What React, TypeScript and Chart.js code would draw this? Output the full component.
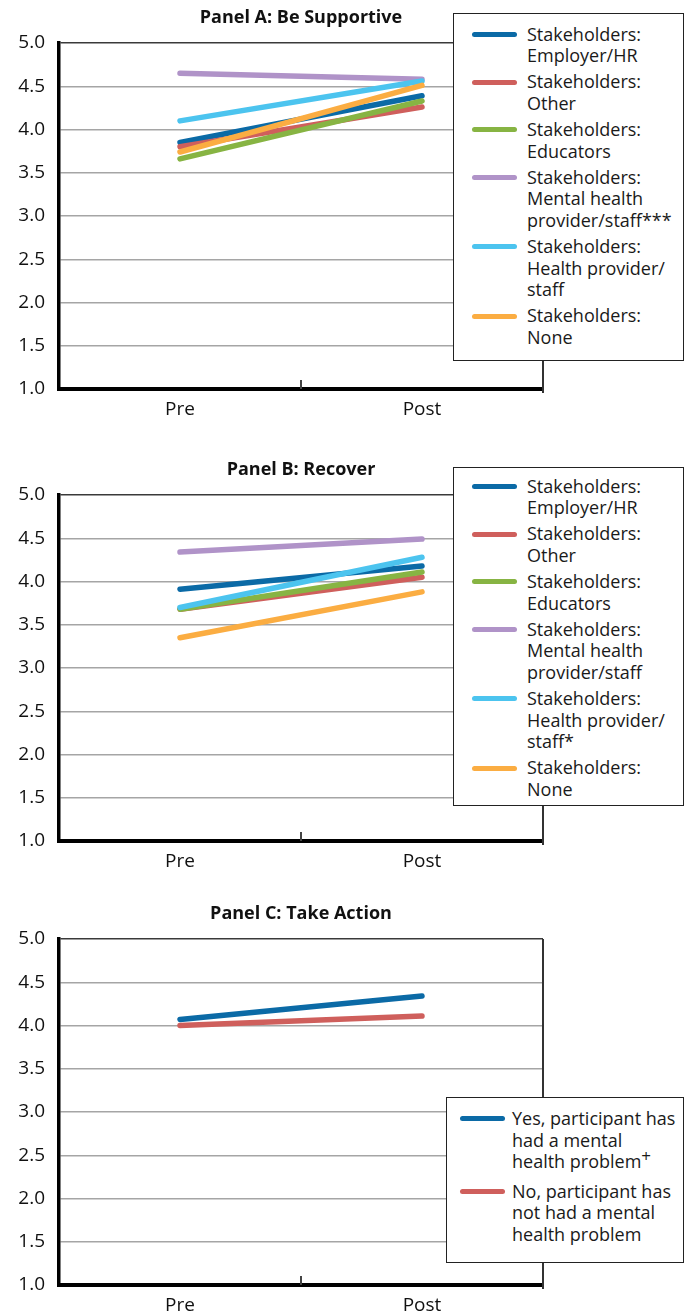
import React, { useEffect, useRef } from "react";
import { Chart, registerables } from "chart.js";

Chart.register(...registerables);

const FONT = "'Open Sans', 'Noto Sans', sans-serif";

const categories = ["Pre", "Post"];
const yTicks = [1.0, 1.5, 2.0, 2.5, 3.0, 3.5, 4.0, 4.5, 5.0];

const stakeholderColors = ["#0b6aa6", "#cf5f5c", "#87b443", "#b093c8", "#4cc4ef", "#fbad42"];

const labelsA = [
  ["Stakeholders:", "Employer/HR"],
  ["Stakeholders:", "Other"],
  ["Stakeholders:", "Educators"],
  ["Stakeholders:", "Mental health", "provider/staff***"],
  ["Stakeholders:", "Health provider/", "staff"],
  ["Stakeholders:", "None"],
];
const valuesA = [
  [3.85, 4.39],
  [3.8, 4.26],
  [3.66, 4.33],
  [4.65, 4.58],
  [4.1, 4.56],
  [3.74, 4.51],
];

const labelsB = [
  ["Stakeholders:", "Employer/HR"],
  ["Stakeholders:", "Other"],
  ["Stakeholders:", "Educators"],
  ["Stakeholders:", "Mental health", "provider/staff"],
  ["Stakeholders:", "Health provider/", "staff*"],
  ["Stakeholders:", "None"],
];
const valuesB = [
  [3.91, 4.18],
  [3.68, 4.05],
  [3.68, 4.11],
  [4.34, 4.49],
  [3.7, 4.28],
  [3.35, 3.88],
];

const colorsC = ["#0b6aa6", "#cf5f5c"];
const labelsC = [
  ["Yes, participant has", "had a mental", "health problem+"],
  ["No, participant has", "not had a mental", "health problem"],
];
const valuesC = [
  [4.07, 4.34],
  [4.0, 4.11],
];

const framePlugin = {
  id: "frame",
  afterDraw(chart: any) {
    const { ctx, chartArea } = chart;
    const x = chart.scales.x;
    ctx.save();
    ctx.strokeStyle = "#333";
    ctx.lineWidth = 2;
    ctx.beginPath();
    ctx.moveTo(chartArea.right, chartArea.top);
    ctx.lineTo(chartArea.right, chartArea.bottom + 4);
    ctx.stroke();
    const mid = (x.getPixelForValue(0) + x.getPixelForValue(1)) / 2;
    ctx.strokeStyle = "#444";
    ctx.lineWidth = 2;
    ctx.beginPath();
    ctx.moveTo(mid, chartArea.bottom);
    ctx.lineTo(mid, chartArea.bottom - 9);
    ctx.stroke();
    ctx.restore();
  },
};

type LegendCfg = {
  left: number;
  top: number;
  width: number;
  height: number;
  padTop: number;
  swatchLeft: number;
  textLeft: number;
  lineHeight: number;
  gap: number;
};

function renderLine(s: string) {
  if (s.endsWith("+")) {
    return (
      <>
        {s.slice(0, -1)}
        <span style={{ fontSize: 17, position: "relative", top: -6 }}>+</span>
      </>
    );
  }
  return s;
}

function Panel(props: {
  top: number;
  height: number;
  title: string;
  labels: string[][];
  values: number[][];
  colors: string[];
  legend: LegendCfg;
}) {
  const ref = useRef<HTMLCanvasElement>(null);
  const { top, height, title, labels, values, colors, legend } = props;

  useEffect(() => {
    if (!ref.current) return;
    const chart = new Chart(ref.current, {
      type: "line",
      data: {
        labels: categories,
        datasets: values.map((v, i) => ({
          label: labels[i].join(" "),
          data: v,
          borderColor: colors[i],
          backgroundColor: colors[i],
          borderWidth: 5.5,
          borderCapStyle: "round" as const,
          pointRadius: 0,
          tension: 0,
          order: -i,
        })),
      },
      options: {
        responsive: false,
        animation: false,
        devicePixelRatio: 1,
        layout: { padding: { left: 0, right: 17, top: 0, bottom: 0 } },
        plugins: {
          legend: { display: false },
          tooltip: { enabled: false },
          title: {
            display: true,
            text: title,
            fullSize: false,
            color: "#111",
            font: { family: FONT, size: 18, weight: "bold" },
            padding: { top: 7, bottom: 14.4 },
          },
        },
        scales: {
          x: {
            type: "category",
            offset: true,
            grid: { display: false, drawTicks: false },
            border: { display: true, color: "#000", width: 4 },
            ticks: { color: "#111", padding: 9, font: { family: FONT, size: 19 } },
            afterFit: (s: any) => {
              s.height = height - 43 - 346;
            },
          },
          y: {
            min: 1,
            max: 5,
            afterBuildTicks: (s: any) => {
              s.ticks = yTicks.map((v) => ({ value: v }));
            },
            grid: {
              drawTicks: false,
              lineWidth: 1.5,
              color: (c: any) => (c.tick && c.tick.value === 5 ? "#3a3a3a" : "#a5a5a5"),
            },
            border: { display: true, color: "#000", width: 3.5 },
            ticks: {
              color: "#111",
              padding: 14,
              font: { family: FONT, size: 19 },
              callback: (v: any) => Number(v).toFixed(1),
            },
            afterFit: (s: any) => {
              s.width = 59;
            },
          },
        },
      },
      plugins: [framePlugin],
    } as any);
    return () => chart.destroy();
  }, []);

  return (
    <>
      <canvas
        ref={ref}
        width={560}
        height={height}
        style={{ position: "absolute", left: 0, top, width: 560, height }}
      />
      <div
        style={{
          position: "absolute",
          left: legend.left,
          top: legend.top,
          width: legend.width,
          height: legend.height,
          boxSizing: "border-box",
          border: "1px solid #222",
          background: "#fff",
          paddingTop: legend.padTop,
          fontFamily: FONT,
          fontSize: 18,
          color: "#1a1a1a",
        }}
      >
        {labels.map((lines, i) => (
          <div
            key={i}
            style={{
              position: "relative",
              marginBottom: legend.gap,
              lineHeight: legend.lineHeight + "px",
              whiteSpace: "nowrap",
            }}
          >
            <div
              style={{
                position: "absolute",
                left: legend.swatchLeft - 1,
                top: legend.lineHeight / 2 - 2.5,
                width: 45,
                height: 5,
                borderRadius: 3,
                background: colors[i],
              }}
            />
            <div style={{ marginLeft: legend.textLeft - 1 }}>
              {lines.map((l, j) => (
                <div key={j}>{renderLine(l)}</div>
              ))}
            </div>
          </div>
        ))}
      </div>
    </>
  );
}

export default function App() {
  return (
    <div
      style={{
        position: "absolute",
        left: 0,
        top: 0,
        width: 692,
        height: 1316,
        overflow: "hidden",
        background: "#fff",
      }}
    >
      <Panel
        top={0}
        height={430}
        title="Panel A: Be Supportive"
        labels={labelsA}
        values={valuesA}
        colors={stakeholderColors}
        legend={{ left: 453, top: 13, width: 231, height: 348, padTop: 9.5, swatchLeft: 19, textLeft: 74, lineHeight: 21.7, gap: 4.3 }}
      />
      <Panel
        top={452}
        height={430}
        title="Panel B: Recover"
        labels={labelsB}
        values={valuesB}
        colors={stakeholderColors}
        legend={{ left: 453, top: 467, width: 231, height: 339, padTop: 7.5, swatchLeft: 19, textLeft: 74, lineHeight: 21.7, gap: 4.3 }}
      />
      <Panel
        top={896}
        height={420}
        title="Panel C: Take Action"
        labels={labelsC}
        values={valuesC}
        colors={colorsC}
        legend={{ left: 446, top: 1097, width: 238, height: 166, padTop: 10, swatchLeft: 14, textLeft: 66, lineHeight: 21.5, gap: 8 }}
      />
    </div>
  );
}
